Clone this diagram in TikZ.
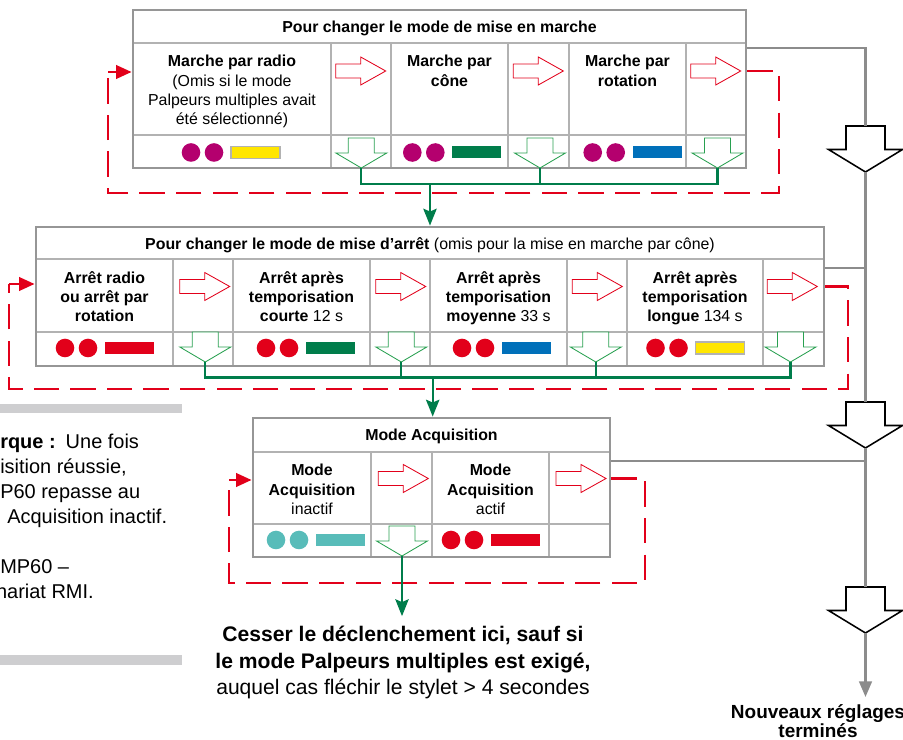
\documentclass[tikz,border=0pt]{standalone}
\usepackage{fontspec}
\setmainfont{Liberation Sans}
\usetikzlibrary{arrows.meta,fit}

\definecolor{rouge}{RGB}{226,0,26}
\definecolor{vert}{RGB}{0,125,75}
\definecolor{vertclair}{RGB}{40,160,80}
\definecolor{pourpre}{RGB}{180,0,110}
\definecolor{bleu}{RGB}{0,112,186}
\definecolor{jaune}{RGB}{255,230,0}
\definecolor{turquoise}{RGB}{88,188,185}
\definecolor{gris}{RGB}{150,150,150}
\definecolor{grisclair}{RGB}{178,178,178}
\definecolor{grisflux}{RGB}{140,140,140}
\definecolor{grisfilet}{RGB}{206,206,208}

\newcommand{\fcell}{\fontsize{11.3}{13.7}\selectfont}
\newcommand{\fbas}{\fontsize{15}{18.7}\selectfont}
\newcommand{\fnote}{\fontsize{14.2}{17.8}\selectfont}
\newcommand{\ffin}{\fontsize{13.5}{12.1}\selectfont}

\tikzset{
  cadre/.style={draw=gris, line width=2pt, inner sep=0pt},
  grille/.style={draw=grisclair, line width=1pt},
  cell/.style={align=center, anchor=north, inner sep=0pt, font=\fcell},
  cellg/.style={cell, font=\fcell\bfseries},
  titre/.style={anchor=base, inner sep=0pt, font=\fcell},
  note/.style={anchor=north west, align=left, inner sep=0pt, font=\fnote},
  boucle/.style={draw=rouge, line width=1.9pt, dash pattern=on 18pt off 8pt},
  retour/.style={draw=rouge, line width=1.9pt, -{Triangle[width=9.5pt,length=11pt]}},
  liaison/.style={draw=vert, line width=1.5pt},
  pointe/.style={-{Stealth[length=12pt,width=9.5pt,inset=2pt]}},
  flux/.style={draw=grisflux, line width=1.6pt},
  pics/flecheR/.style={code={
    \draw[rouge, line width=0.6pt, fill=white] (-25,-7) -- (0,-7) -- (0,-14) -- (25,0) -- (0,14) -- (0,7) -- (-25,7) -- cycle;
    \coordinate (-pointe) at (25,0);
  }},
  pics/flecheV/.style={code={
    \draw[vertclair, line width=0.6pt, fill=white] (-13,0) -- (13,0) -- (13,15) -- (25.5,15) -- (0,30) -- (-25.5,15) -- (-13,15) -- cycle;
    \coordinate (-pointe) at (0,30);
  }},
  pics/flecheN/.style={code={
    \draw[black, line width=1.1pt, fill=white] (-19.5,0) -- (19.5,0) -- (19.5,23.5) -- (37,23.5) -- (0,46) -- (-37,23.5) -- (-19.5,23.5) -- cycle;
    \coordinate (-haut) at (0,0);
    \coordinate (-pointe) at (0,46);
  }},
  pics/voyants/.style 2 args={code={
    \fill[#1] (-40,0) circle (9.3);
    \fill[#1] (-17,0) circle (9.3);
    \path[#2] (0,-6) rectangle (49,6);
  }},
}

\begin{document}
\begin{tikzpicture}[x=0.025cm, y=-0.025cm]
\useasboundingbox (0,0) rectangle (903,740);

% remarque
\fill[grisfilet] (0,404) rectangle (182,413);
\fill[grisfilet] (0,655) rectangle (182,665);
\node[note] (remarque) at (0,433.5) {\textbf{rque :}\enspace Une fois\\isition réussie,\\P60 repasse au\\\hspace*{5pt}Acquisition inactif.\\[17.8pt]MP60 –\\\hspace*{-3pt}hariat RMI.};

% mise en marche
\draw[grille] (133,43) -- (746,43);
\draw[grille] (133,135) -- (746,135);
\foreach \x in {331,391,508,569,686} \draw[grille] (\x,43) -- (\x,168);
\node[cadre, fit={(133,10) (746,168)}] (marche) {};
\node[titre] (tmarche) at (439.5,33) {\bfseries Pour changer le mode de mise en marche};
\node[cell] (m1) at (232,55) {\textbf{Marche par radio}\\(Omis si le mode\\Palpeurs multiples avait\\été sélectionné)};
\node[cellg] (m2) at (449.5,55) {Marche par\\cône};
\node[cellg] (m3) at (627.5,55) {Marche par\\rotation};
\pic (rm1) at (360.7,71) {flecheR};
\pic (rm2) at (538.3,71) {flecheR};
\pic (rm3) at (715.7,71) {flecheR};
\pic (gm1) at (361.3,138) {flecheV};
\pic (gm2) at (540,138) {flecheV};
\pic (gm3) at (717.5,138) {flecheV};
\pic at (231,152.5) {voyants={pourpre}{fill=jaune,draw=grisclair,line width=0.8pt}};
\pic at (452.3,152.5) {voyants={pourpre}{fill=vert}};
\pic at (632.7,152.5) {voyants={pourpre}{fill=bleu}};

% mise d'arret
\draw[grille] (36,259) -- (824,259);
\draw[grille] (36,332) -- (824,332);
\foreach \x in {173,233,370,430,567,627,763} \draw[grille] (\x,259) -- (\x,366);
\node[cadre, fit={(36,227) (824,366)}] (arret) {};
\node[titre] (tarret) at (430,249.5) {\textbf{Pour changer le mode de mise d’arrêt} (omis pour la mise en marche par cône)};
\node[cellg] (a1) at (104.5,271) {Arrêt radio\\ou arrêt par\\rotation};
\node[cell] (a2) at (301.5,271) {\textbf{Arrêt après}\\\textbf{temporisation}\\\textbf{courte} 12 s};
\node[cell] (a3) at (498.5,271) {\textbf{Arrêt après}\\\textbf{temporisation}\\\textbf{moyenne} 33 s};
\node[cell] (a4) at (695,271) {\textbf{Arrêt après}\\\textbf{temporisation}\\\textbf{longue} 134 s};
\pic (ra1) at (204.7,286.5) {flecheR};
\pic (ra2) at (400.7,286.5) {flecheR};
\pic (ra3) at (597.3,286.5) {flecheR};
\pic (ra4) at (792.3,286.5) {flecheR};
\pic (ga1) at (205.3,332) {flecheV};
\pic (ga2) at (401.3,332) {flecheV};
\pic (ga3) at (595.8,332) {flecheV};
\pic (ga4) at (790.5,332) {flecheV};
\pic at (105,348) {voyants={rouge}{fill=rouge}};
\pic at (306,348) {voyants={rouge}{fill=vert}};
\pic at (502,348) {voyants={rouge}{fill=bleu}};
\pic at (695.5,348) {voyants={rouge}{fill=jaune,draw=grisclair,line width=0.8pt}};

% acquisition
\draw[grille] (253,452) -- (610,452);
\draw[grille] (253,524) -- (610,524);
\foreach \x in {371,432,549} \draw[grille] (\x,452) -- (\x,557);
\node[cadre, fit={(253,418) (610,557)}] (acqui) {};
\node[titre] (tacqui) at (431.5,441) {\bfseries Mode Acquisition};
\node[cell] (q1) at (312,464) {\textbf{Mode}\\\textbf{Acquisition}\\inactif};
\node[cell] (q2) at (490.5,464) {\textbf{Mode}\\\textbf{Acquisition}\\actif};
\pic (rq1) at (403.3,478.5) {flecheR};
\pic (rq2) at (581,478.5) {flecheR};
\pic (gq1) at (402,526) {flecheV};
\pic at (316,540) {voyants={turquoise}{fill=turquoise}};
\pic at (491,540) {voyants={rouge}{fill=rouge}};

% textes du bas
\node[cellg, font=\fbas\bfseries] (bas) at (403,626) {Cesser le déclenchement ici, sauf si\\le mode Palpeurs multiples est exigé,\\\mdseries auquel cas fléchir le stylet > 4 secondes};
\node[cellg, font=\ffin\bfseries] (fin) at (818,704) {Nouveaux réglages\\terminés};

% boucles rouges
\coordinate (em) at (108,72);
\coordinate (ea) at (9,284);
\coordinate (eq) at (229,480);
\draw[boucle] (marche.east |- rm3-pointe) -| (779,193) -| (em);
\draw[retour] (em) -- (em -| marche.west);
\draw[boucle] (arret.east |- ra4-pointe) -| (848,389) -| (ea);
\draw[retour] (ea) -- (ea -| arret.west);
\draw[boucle] (acqui.east |- rq2-pointe) -| (645,583) -| (eq);
\draw[retour] (eq) -- (eq -| acqui.west);

% liaisons vertes
\coordinate (bm) at (430,184);
\coordinate (ba) at (432.7,377.5);
\draw[liaison] (gm1-pointe) -- (gm1-pointe |- bm) -- (gm3-pointe |- bm) -- (gm3-pointe);
\draw[liaison] (gm2-pointe) -- (gm2-pointe |- bm);
\draw[liaison, pointe] (bm) -- (bm |- arret.north);
\draw[liaison] (ga1-pointe) -- (ga1-pointe |- ba) -- (ga4-pointe |- ba) -- (ga4-pointe);
\foreach \n in {2,3} \draw[liaison] (ga\n-pointe) -- (ga\n-pointe |- ba);
\draw[liaison, pointe] (ba) -- (ba |- acqui.north);
\draw[liaison, pointe, shorten >=7pt] (gq1-pointe) -- (gq1-pointe |- bas.north);

% flux gris
\pic (n1) at (865.5,126) {flecheN};
\pic (n2) at (865.5,402) {flecheN};
\pic (n3) at (865.5,587) {flecheN};
\draw[flux] (marche.east |- 0,48) -| (n1-haut);
\draw[flux] (n1-pointe) -- (n2-haut);
\draw[flux] (arret.east |- 0,268) -- (n1-pointe |- 0,268);
\draw[flux] (n2-pointe) -- (n3-haut);
\draw[flux] (acqui.east |- 0,461) -- (n2-pointe |- 0,461);
\draw[flux, -{Triangle[width=9pt,length=11pt]}, shorten >=5pt] (n3-pointe) -- (n3-pointe |- fin.north);
\end{tikzpicture}
\end{document}
